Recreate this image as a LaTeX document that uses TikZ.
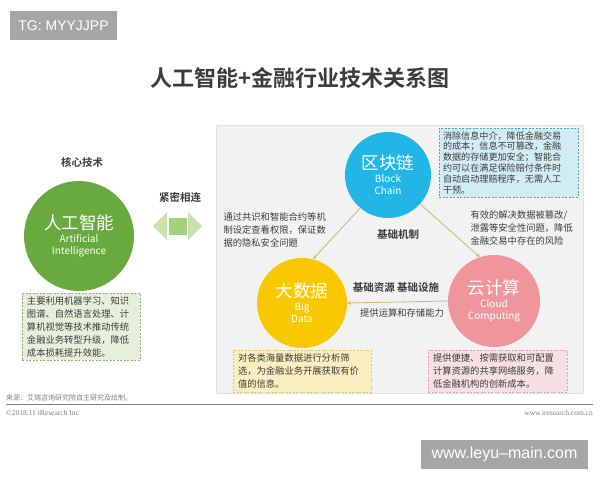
\documentclass[tikz,border=0pt]{standalone}
\usepackage{fontspec}
\setmainfont{Noto Sans CJK SC}[BoldFont={Noto Sans CJK SC Bold}]
\newfontfamily\wmfont{Liberation Sans}
\newfontfamily\serfont{Liberation Serif}
\usetikzlibrary{shapes.arrows}

\definecolor{txtgray}{RGB}{60,60,60}
\definecolor{aigreen}{RGB}{104,170,62}
\definecolor{aibox}{RGB}{229,240,218}
\definecolor{aiedge}{RGB}{150,175,130}
\definecolor{bcblue}{RGB}{34,182,230}
\definecolor{bcbox}{RGB}{210,236,244}
\definecolor{bcedge}{RGB}{80,165,185}
\definecolor{bdyellow}{RGB}{250,200,0}
\definecolor{bdbox}{RGB}{248,238,190}
\definecolor{bdedge}{RGB}{220,200,110}
\definecolor{ccpink}{RGB}{240,150,155}
\definecolor{ccbox}{RGB}{246,224,228}
\definecolor{ccedge}{RGB}{220,165,175}
\definecolor{panelgray}{RGB}{242,242,242}
\definecolor{paneledge}{RGB}{225,225,225}
\definecolor{linkolive}{RGB}{190,190,110}
\definecolor{arrowlight}{RGB}{200,226,170}
\definecolor{arrowdark}{RGB}{165,208,125}
\definecolor{wmgray}{RGB}{166,166,166}

\tikzset{
  bubble/.style={circle, fill=#1, text=white, inner sep=0pt, align=center},
  notebox/.style 2 args={draw=#1, fill=#2, dash pattern=on 2pt off 1.5pt,
    inner sep=0pt, text=txtgray, align=left},
  bodytext/.style={text=txtgray, font=\fontsize{9.3}{13}\selectfont, align=left},
  headtext/.style={text=txtgray, font=\bfseries\fontsize{10.5}{12}\selectfont},
  link/.style={draw=linkolive, line width=0.8pt, ->, >=stealth},
  wmbox/.style={fill=wmgray, text=white, inner sep=0pt, font=\wmfont}
}

\newcommand{\bigname}{\fontsize{17.5}{20}\selectfont}
\newcommand{\subname}{\fontsize{10}{11}\selectfont}

\begin{document}
\begin{tikzpicture}[x=1pt,y=-1pt]
	\useasboundingbox[fill=white] (0,0) rectangle (600,480);
	% watermark and title
	\node[wmbox, minimum width=107pt, minimum height=29pt, font=\wmfont\fontsize{14}{16}\selectfont] (tg) at (63.5,25.5) {TG: MYYJJPP};
	\node[text=txtgray, font=\bfseries\fontsize{22}{26}\selectfont] (title) at (300,78) {人工智能+金融行业技术关系图};
	% panel
	\draw[fill=panelgray, draw=paneledge] (216,125) rectangle (583,393);
	% left part
	\node[headtext] (core) at (82,162) {核心技术};
	\node[bubble=aigreen, minimum size=110pt] (ai) at (79,236) {\bigname 人工智能\\[1pt]\subname Artificial\\\subname Intelligence};
	\node[notebox={aiedge}{aibox}, minimum width=118pt, minimum height=67pt, text width=108pt,
		font=\fontsize{9.3}{13}\selectfont] (aitext) at (81,326.5) {主要利用机器学习、知识\\图谱、自然语言处理、计\\算机视觉等技术推动传统\\金融业务转型升级，降低\\成本损耗提升效能。};
	\node[headtext] (close) at (180,197) {紧密相连};
	\node[double arrow, fill=arrowlight, minimum width=28pt, minimum height=49pt,
		double arrow head extend=5.5pt, inner sep=0pt] (tie) at (177.5,226) {};
	\node[fill=arrowdark, minimum width=18pt, minimum height=17pt, inner sep=0pt] (tiemid) at (tie.center) {};
	% block chain
	\node[bubble=bcblue, minimum size=86pt] (chain) at (388,175) {\bigname 区块链\\[1pt]\subname Block\\\subname Chain};
	\node[notebox={bcedge}{bcbox}, minimum width=139pt, minimum height=69pt, text width=131pt,
		font=\fontsize{9.1}{10.8}\selectfont] (chaintext) at (508.5,162.5) {消除信息中介，降低金融交易\\的成本；信息不可篡改，金融\\数据的存储更加安全；智能合\\约可以在满足保险赔付条件时\\自动启动理赔程序，无需人工\\干预。};
	\node[bodytext, anchor=west] (privacy) at (220,230) {通过共识和智能合约等机\\制设定查看权限，保证数\\据的隐私安全问题};
	\node[headtext] (mech) at (398,234) {基础机制};
	\node[bodytext, anchor=west] (risk) at (467,228) {有效的解决数据被篡改/\\泄露等安全性问题，降低\\金融交易中存在的风险};
	% big data and cloud
	\node[bubble=bdyellow, minimum size=90pt] (bigdata) at (302,303) {\bigname 大数据\\[1pt]\subname Big\\\subname Data};
	\node[bubble=ccpink, minimum size=92pt] (cloud) at (494,301) {\bigname 云计算\\[1pt]\subname Cloud\\\subname Computing};
	\draw[link] (chain.230) -- (bigdata.76);
	\draw[link] (chain.318) -- (cloud.108);
	\draw[link] (cloud.west) -- (bigdata.east);
	\node[headtext] (infra) at (396,288) {基础资源~基础设施};
	\node[bodytext] (compute) at (402,313) {提供运算和存储能力};
	\node[notebox={bdedge}{bdbox}, minimum width=138pt, minimum height=42pt, text width=128pt,
		font=\fontsize{9.3}{13}\selectfont] (bdtext) at (302,371) {对各类海量数据进行分析筛\\选，为金融业务开展获取有价\\值的信息。};
	\node[notebox={ccedge}{ccbox}, minimum width=139pt, minimum height=42pt, text width=129pt,
		font=\fontsize{9.3}{13}\selectfont] (cctext) at (497.5,371) {提供便捷、按需获取和可配置\\计算资源的共享网络服务，降\\低金融机构的创新成本。};
	% footer
	\node[anchor=west, text=gray, font=\fontsize{7}{8}\selectfont, inner sep=0pt] (source) at (6,398) {来源：艾瑞咨询研究院自主研究及绘制。};
	\coordinate (ruleL) at (6,404);
	\coordinate (ruleR) at (593,404);
	\draw[gray, line width=0.8pt] (ruleL) -- (ruleR);
	\node[anchor=west, text=gray, font=\serfont\fontsize{7.5}{9}\selectfont, inner sep=0pt] (copy) at (6,413) {©2018.11 iResearch Inc};
	\node[anchor=east, text=gray, font=\serfont\fontsize{7.5}{9}\selectfont, inner sep=0pt] (site) at (593,413) {www.iresearch.com.cn};
	\node[wmbox, minimum width=167pt, minimum height=29pt, font=\wmfont\fontsize{16}{18}\selectfont] (wm) at (504.5,454.5) {www.leyu–main.com};
\end{tikzpicture}
\end{document}
